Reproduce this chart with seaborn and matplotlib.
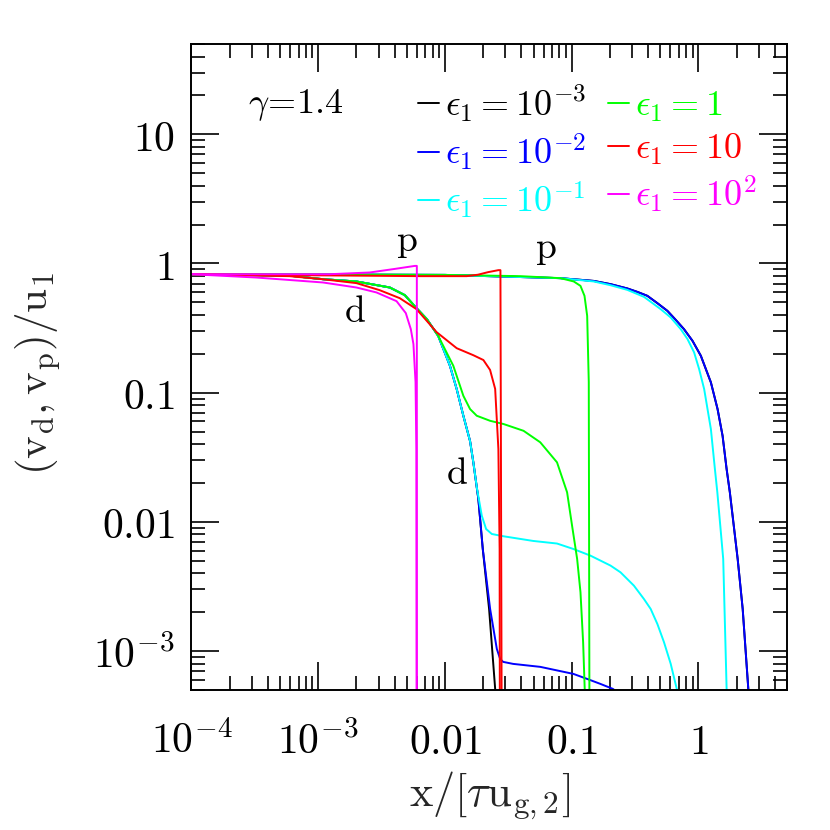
import matplotlib
matplotlib.use("Agg")
import matplotlib.pyplot as plt
import seaborn as sns
from matplotlib.ticker import NullFormatter

# values: x = x/[tau u_g,2], y = (v_d, v_p)/u_1
eps_labels = [r"$\epsilon_1=10^{-3}$", r"$\epsilon_1=10^{-2}$", r"$\epsilon_1=10^{-1}$",
              r"$\epsilon_1=1$", r"$\epsilon_1=10$", r"$\epsilon_1=10^{2}$"]
eps_colors = ["#000000", "#0000ff", "#00ffff", "#00ff00", "#ff0000", "#ff00ff"]

# eps = 1e-3
black_d_x = [1e-4, 5.93e-4, 1.09e-3, 2.0e-3, 3.67e-3, 4.82e-3, 5.97e-3, 7.2e-3, 8.85e-3, 0.01095,
             0.01238, 0.01397, 0.01578, 0.01675, 0.01835, 0.01988, 0.0223, 0.0249, 0.0253]
black_d_y = [0.826, 0.805, 0.756, 0.726, 0.652, 0.569, 0.451, 0.371, 0.275, 0.1615,
             0.1066, 0.0663, 0.0422, 0.0289, 0.01503, 0.00617, 0.00212, 5.1e-4, 4e-4]
black_p_x = [1e-4, 0.01, 0.0815, 0.1493, 0.2025, 0.2746, 0.3295, 0.3954, 0.4745, 0.569,
             0.6624, 0.770, 0.898, 1.045, 1.254, 1.416, 1.551, 1.669, 1.77, 2.04, 2.235,
             2.475, 2.5]
black_p_y = [0.826, 0.816, 0.770, 0.733, 0.692, 0.641, 0.603, 0.562, 0.493, 0.430,
             0.366, 0.310, 0.252, 0.193, 0.1202, 0.0747, 0.0464, 0.02564, 0.01694, 0.00517,
             0.00212, 5.1e-4, 4e-4]

# eps = 1e-2
blue_d_x = [1e-4, 5.93e-4, 1.09e-3, 2.0e-3, 3.67e-3, 4.82e-3, 5.97e-3, 7.2e-3, 8.85e-3, 0.01095,
            0.01238, 0.01397, 0.01578, 0.01675, 0.01835, 0.01988, 0.02272, 0.02566, 0.02725,
            0.02878, 0.0345, 0.0565, 0.1031, 0.1324, 0.1687, 0.2112, 0.25]
blue_d_y = [0.826, 0.805, 0.756, 0.726, 0.652, 0.569, 0.451, 0.371, 0.275, 0.1615,
            0.1066, 0.0663, 0.0422, 0.0289, 0.01503, 0.00617, 0.00212, 1.04e-3, 8.7e-4,
            8.25e-4, 7.96e-4, 7.55e-4, 6.66e-4, 6.09e-4, 5.57e-4, 5.1e-4, 4.5e-4]
blue_p_x = [1e-4, 0.01, 0.0815, 0.1493, 0.2025, 0.2746, 0.3295, 0.3954, 0.4745, 0.569,
            0.6624, 0.770, 0.898, 1.045, 1.254, 1.416, 1.551, 1.669, 1.77, 2.04, 2.235,
            2.475, 2.5]
blue_p_y = [0.826, 0.816, 0.770, 0.733, 0.692, 0.641, 0.603, 0.562, 0.493, 0.430,
            0.366, 0.310, 0.252, 0.193, 0.1202, 0.0747, 0.0464, 0.02564, 0.01694, 0.00517,
            0.00212, 5.1e-4, 4e-4]

# eps = 1e-1
cyan_d_x = [1e-4, 5.93e-4, 1.09e-3, 2.0e-3, 3.67e-3, 4.82e-3, 5.97e-3, 7.2e-3, 8.85e-3, 0.01095,
            0.01238, 0.01397, 0.01578, 0.01675, 0.01792, 0.01953, 0.02112, 0.02343, 0.02894,
            0.0497, 0.0766, 0.1031, 0.1406, 0.2025, 0.2429, 0.3097, 0.3716, 0.4199, 0.4745,
            0.5352, 0.6046, 0.6745, 0.68]
cyan_d_y = [0.826, 0.805, 0.756, 0.726, 0.652, 0.569, 0.451, 0.371, 0.275, 0.1615,
            0.1066, 0.0663, 0.0422, 0.0289, 0.01796, 0.01117, 0.00881, 0.00806, 0.00774,
            0.00712, 0.0068, 0.00617, 0.00548, 0.00459, 0.00407, 0.00321, 0.00253, 0.00212,
            0.00162, 0.00117, 7.96e-4, 5.1e-4, 4e-4]
cyan_p_x = [1e-4, 0.01, 0.0815, 0.1493, 0.2025, 0.2746, 0.3716, 0.5039, 0.6046, 0.7257,
            0.820, 0.9247, 1.013, 1.110, 1.254, 1.349, 1.41, 1.569, 1.669, 1.675]
cyan_p_y = [0.826, 0.816, 0.770, 0.726, 0.679, 0.625, 0.552, 0.443, 0.382, 0.310,
            0.260, 0.205, 0.1522, 0.1066, 0.0523, 0.02564, 0.01694, 0.00517, 5.1e-4, 4e-4]

# eps = 1
green_d_x = [1e-4, 5.93e-4, 1.09e-3, 2.0e-3, 3.67e-3, 4.82e-3, 5.97e-3, 7.2e-3, 8.85e-3, 0.01164,
             0.01397, 0.01578, 0.01782, 0.0227, 0.029, 0.0417, 0.0565, 0.0766, 0.092, 0.1007,
             0.1104, 0.1173, 0.1231, 0.1267, 0.128]
green_d_y = [0.826, 0.805, 0.756, 0.726, 0.652, 0.569, 0.451, 0.371, 0.275, 0.1615,
             0.0946, 0.0747, 0.0663, 0.0606, 0.0572, 0.0507, 0.0413, 0.0289, 0.01694, 0.00935,
             0.00517, 0.00286, 0.00117, 5.1e-4, 4e-4]
green_p_x = [1e-4, 0.01, 0.0393, 0.0815, 0.1038, 0.1173, 0.1262, 0.1325, 0.1364, 0.138]
green_p_y = [0.826, 0.816, 0.798, 0.770, 0.726, 0.671, 0.562, 0.393, 0.121, 4e-4]

# eps = 10
red_d_x = [1e-4, 5.93e-4, 1.08e-3, 2.0e-3, 3.05e-3, 4.40e-3, 5.97e-3, 8.6e-3, 0.01238,
           0.01675, 0.0201, 0.0227, 0.0249, 0.0264, 0.0270, 0.0271]
red_d_y = [0.826, 0.798, 0.756, 0.705, 0.622, 0.539, 0.443, 0.294, 0.221,
           0.195, 0.179, 0.150, 0.107, 0.0366, 0.00617, 4e-4]
red_p_x = [1e-4, 7.1e-4, 6.34e-3, 0.01486, 0.01824, 0.0219, 0.0264, 0.0274, 0.0280]
red_p_y = [0.826, 0.812, 0.798, 0.798, 0.819, 0.857, 0.888, 0.888, 4e-4]

# eps = 1e2
magenta_d_x = [1e-4, 3.23e-4, 1.09e-3, 2.0e-3, 2.88e-3, 4.15e-3, 4.91e-3, 5.38e-3, 5.64e-3,
               5.86e-3, 5.95e-3, 5.98e-3]
magenta_d_y = [0.826, 0.779, 0.713, 0.652, 0.597, 0.511, 0.413, 0.310, 0.238,
               0.121, 0.0366, 4e-4]
magenta_p_x = [1e-4, 1.23e-3, 2.55e-3, 4.02e-3, 5.79e-3, 6.0e-3, 6.0e-3]
magenta_p_y = [0.826, 0.826, 0.852, 0.908, 0.958, 0.958, 4e-4]

curves = [
    (black_d_x, black_d_y, black_p_x, black_p_y),
    (blue_d_x, blue_d_y, blue_p_x, blue_p_y),
    (cyan_d_x, cyan_d_y, cyan_p_x, cyan_p_y),
    (green_d_x, green_d_y, green_p_x, green_p_y),
    (red_d_x, red_d_y, red_p_x, red_p_y),
    (magenta_d_x, magenta_d_y, magenta_p_x, magenta_p_y),
]

xticks = [1e-4, 1e-3, 1e-2, 1e-1, 1]
xtick_labels = [r"$10^{-4}$", r"$10^{-3}$", r"$0.01$", r"$0.1$", r"$1$"]
yticks = [1e-3, 1e-2, 1e-1, 1, 10]
ytick_labels = [r"$10^{-3}$", r"$0.01$", r"$0.1$", r"$1$", r"$10$"]

sns.set_theme(style="ticks")
plt.rcParams.update({
    "font.family": ["DejaVu Serif", "DejaVu Sans"],
    "mathtext.fontset": "cm",
    "axes.edgecolor": "black",
    "axes.linewidth": 1.4,
    "xtick.color": "black",
    "ytick.color": "black",
    "text.color": "black",
})

fig = plt.figure(figsize=(8.3, 8.3), dpi=100)
ax = fig.add_axes([0.2307, 0.1687, 0.7175, 0.7783])

handles = []
for (dx, dy, px, py), col in zip(curves, eps_colors):
    sns.lineplot(x=dx, y=dy, ax=ax, sort=False, estimator=None, color=col, lw=1.4)
    sns.lineplot(x=px, y=py, ax=ax, sort=False, estimator=None, color=col, lw=1.4)
    handles.append(ax.get_lines()[-1])

ax.set_xscale("log")
ax.set_yscale("log")
ax.set_xlim(1e-4, 5)
ax.set_ylim(5e-4, 50)
ax.set_xticks(xticks, labels=xtick_labels)
ax.set_yticks(yticks, labels=ytick_labels)
ax.xaxis.set_minor_formatter(NullFormatter())
ax.yaxis.set_minor_formatter(NullFormatter())
ax.tick_params(which="both", direction="in", top=True, right=True, width=1.2)
ax.tick_params(which="major", length=20, labelsize=30)
ax.tick_params(axis="x", which="major", pad=22)
ax.tick_params(axis="y", which="major", pad=12)
ax.tick_params(which="minor", length=10)

ax.set_xlabel(r"$\mathrm{x}/[\tau\mathrm{u}_{\mathrm{g},2}]$", fontsize=32)
ax.set_ylabel(r"$(\mathrm{v_d,v_p})/\mathrm{u_1}$", fontsize=31)
ax.xaxis.set_label_coords(0.50, -0.122)
ax.yaxis.set_label_coords(-0.215, 0.49)

ax.text(0.095, 0.906, r"$\gamma\!=\!1.4$", transform=ax.transAxes, fontsize=26, va="center")
ax.text(0.005, 1.46, r"$\mathrm{p}$", fontsize=27, ha="center", va="center")
ax.text(0.062, 1.29, r"$\mathrm{p}$", fontsize=27, ha="center", va="center")
ax.text(0.00194, 0.42, r"$\mathrm{d}$", fontsize=27, ha="center", va="center")
ax.text(0.01245, 0.0235, r"$\mathrm{d}$", fontsize=27, ha="center", va="center")

ax.legend(handles, eps_labels, ncol=2, loc="upper left", bbox_to_anchor=(0.38, 0.94),
          frameon=False, fontsize=26, labelcolor="linecolor", handlelength=0.6,
          handletextpad=0.15, columnspacing=0.6, labelspacing=0.2, borderpad=0,
          borderaxespad=0)

fig.savefig("out.png", dpi=100)
